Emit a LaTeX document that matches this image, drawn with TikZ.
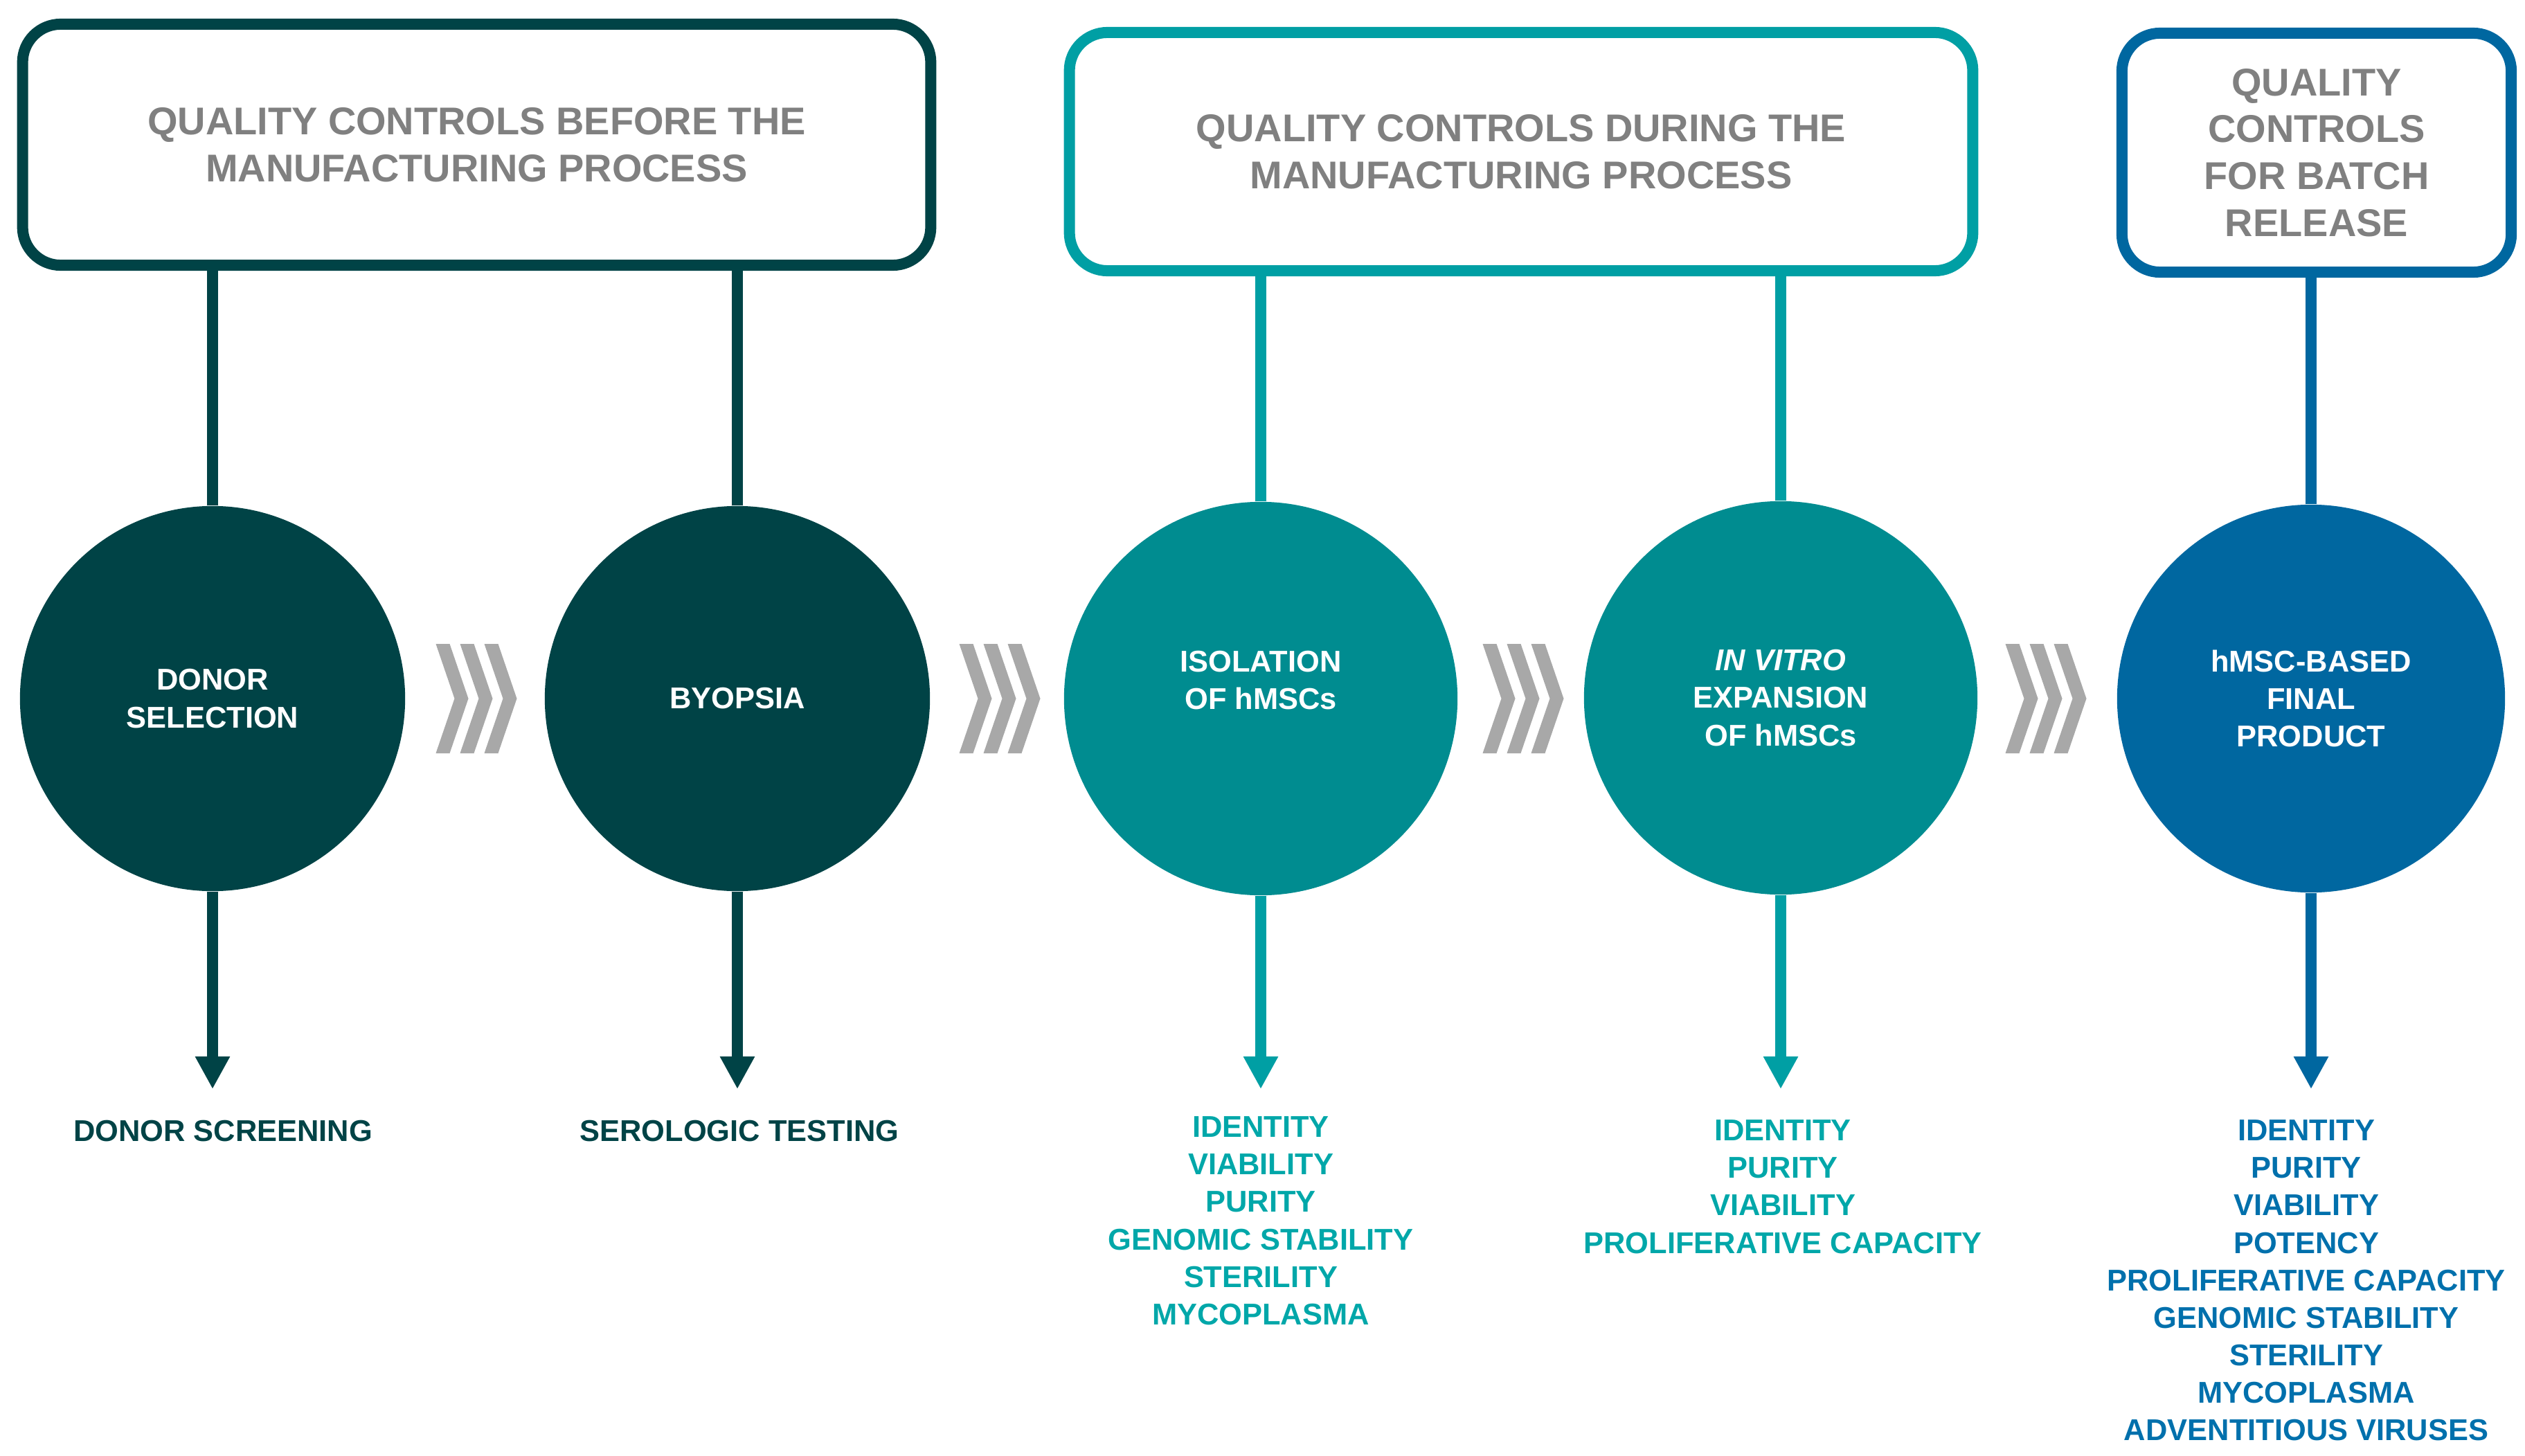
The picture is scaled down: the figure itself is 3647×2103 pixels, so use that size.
\documentclass[tikz,border=0pt]{standalone}
\usepackage{fontspec}
\setmainfont{Liberation Sans}
\usetikzlibrary{arrows.meta}
\definecolor{dk}{HTML}{004346}
\definecolor{tealc}{HTML}{008C90}
\definecolor{teall}{HTML}{009FA4}
\definecolor{tealt}{HTML}{00A7A9}
\definecolor{bluec}{HTML}{0067A0}
\definecolor{bluet}{HTML}{0070AC}
\definecolor{titlegrey}{HTML}{808080}
\definecolor{chevgrey}{HTML}{A8A8A8}
\begin{document}
\begin{tikzpicture}[x=0.01cm,y=-0.01cm,
  qbox/.style={draw, line width=0.16cm, rounded corners=0.55cm, fill=white, text=titlegrey,
    font=\bfseries\fontsize{15.9}{19.2}\selectfont, align=center, inner sep=0pt},
  stage/.style={circle, inner sep=0pt, text=white,
    font=\bfseries\fontsize{12.35}{15.4}\selectfont, align=center},
  link/.style={line width=0.16cm},
  outarrow/.style={line width=0.16cm, -{Triangle[width=0.47cm,length=0.47cm]}},
  checks/.style={inner sep=0pt, font=\bfseries\fontsize{12.35}{15.4}\selectfont, align=center, anchor=north},
  chev/.style={fill=chevgrey, draw=none}
]
\useasboundingbox (0,0) rectangle (3647,2103);

% boxes
\node[qbox, draw=dk, minimum width=13.11cm, minimum height=3.48cm] (box1) at (688.5,209)
  {QUALITY CONTROLS BEFORE THE\\MANUFACTURING PROCESS};
\node[qbox, draw=teall, minimum width=13.04cm, minimum height=3.44cm] (box2) at (2197,219)
  {QUALITY CONTROLS DURING THE\\MANUFACTURING PROCESS};
\node[qbox, draw=bluec, minimum width=5.62cm, minimum height=3.45cm] (box3) at (3346,220.5)
  {QUALITY\\CONTROLS\\FOR BATCH\\RELEASE};

% circles
\node[stage, fill=dk, minimum size=5.56cm] (c1) at (307,1009) {DONOR\\SELECTION};
\node[stage, fill=dk, minimum size=5.56cm] (c2) at (1065,1009) {BYOPSIA};
\node[stage, fill=tealc, minimum size=5.68cm] (c3) at (1821,1009) {ISOLATION\\OF hMSCs\\\mbox{}};
\node[stage, fill=tealc, minimum size=5.68cm] (c4) at (2572,1008) {\textit{IN VITRO}\\EXPANSION\\OF hMSCs};
\node[stage, fill=bluec, minimum size=5.60cm] (c5) at (3338,1009) {hMSC-BASED\\FINAL\\PRODUCT};

% connectors box -> circle
\draw[link, dk] (c1 |- box1.south) -- (c1.north);
\draw[link, dk] (c2 |- box1.south) -- (c2.north);
\draw[link, teall] (c3 |- box2.south) -- (c3.north);
\draw[link, teall] (c4 |- box2.south) -- (c4.north);
\draw[link, bluec] (c5 |- box3.south) -- (c5.north);

% arrows down
\coordinate (e1) at (307,1573);
\coordinate (e2) at (1065,1573);
\coordinate (e3) at (1821,1573);
\coordinate (e4) at (2572,1573);
\coordinate (e5) at (3338,1573);
\draw[outarrow, dk] (c1.south) -- (e1);
\draw[outarrow, dk] (c2.south) -- (e2);
\draw[outarrow, teall] (c3.south) -- (e3);
\draw[outarrow, teall] (c4.south) -- (e4);
\draw[outarrow, bluec] (c5.south) -- (e5);

% chevrons
\foreach \cx in {688,1444,2200,2955}{
  \foreach \k in {0,1,2}{
    \fill[chev] ({\cx-58.5+35*\k},930) -- ++(20,0) -- ++(27,79) -- ++(-27,79) -- ++(-20,0) -- ++(27,-79) -- cycle;
  }
}

% results
\node[checks, text=dk] (r1) at (322,1617) {DONOR SCREENING};
\node[checks, text=dk] (r2) at (1068,1617) {SEROLOGIC TESTING};
\node[checks, text=tealt] (r3) at (1821,1612)
  {IDENTITY\\VIABILITY\\PURITY\\GENOMIC STABILITY\\STERILITY\\MYCOPLASMA};
\node[checks, text=tealt] (r4) at (2575,1617)
  {IDENTITY\\PURITY\\VIABILITY\\PROLIFERATIVE CAPACITY};
\node[checks, text=bluet] (r5) at (3331,1617)
  {IDENTITY\\PURITY\\VIABILITY\\POTENCY\\PROLIFERATIVE CAPACITY\\GENOMIC STABILITY\\STERILITY\\MYCOPLASMA\\ADVENTITIOUS VIRUSES};
\end{tikzpicture}
\end{document}
